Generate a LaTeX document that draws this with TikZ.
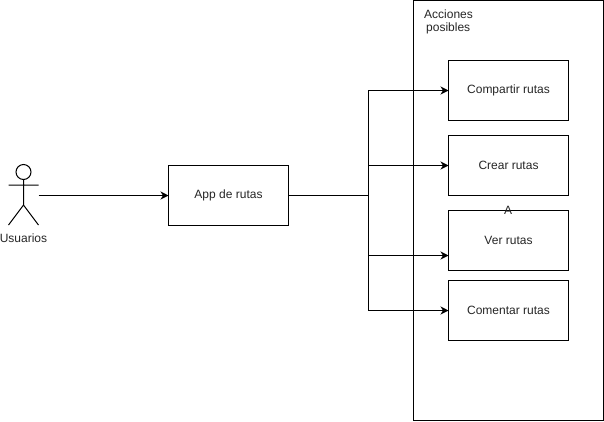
\documentclass[tikz,border=0pt]{standalone}
\usepackage{fontspec}
\setmainfont{Liberation Sans}
\usetikzlibrary{arrows.meta}
\tikzset{
  box/.style={draw=black,line width=1pt,fill=white,outer sep=0pt,minimum width=120pt,minimum height=60pt,inner sep=0pt,font=\fontsize{12}{14}\selectfont,text=black!85},
  lbl/.style={inner sep=0pt,font=\fontsize{12}{14}\selectfont,text=black!85},
  conn/.style={draw=black,line width=1pt,-{Stealth[length=8pt,width=8pt,inset=2.5pt]}},
  wire/.style={draw=black,line width=1pt},
}
\begin{document}
\begin{tikzpicture}[x=1pt,y=-1pt]
\useasboundingbox[fill=white] (0,0) rectangle (604,421);
% container
\node[draw=black,line width=1pt,outer sep=0pt,minimum width=189.5pt,minimum height=420pt,inner sep=0pt,anchor=north west] (cont) at (413.5,0.5) {};
\node[lbl,align=left,anchor=west] (acc1) at (424,14) {Acciones};
\node[lbl,align=left,anchor=west] (acc2) at (426,28) {posibles};
% boxes
\node[box] (compartir) at (508.5,90.5) {Compartir rutas};
\node[box] (crear) at (508.5,165.5) {Crear rutas};
\node[box] (ver) at (508.5,240.5) {Ver rutas};
\node[box] (comentar) at (508.5,310.5) {Comentar rutas};
\node[box] (app) at (228.5,195.5) {App de rutas};
\node[lbl] (a) at (508,210.5) {A};
% actor
\draw[wire] (23.5,172) circle (7.5);
\draw[wire] (23.5,179.5) -- (23.5,205) (8.5,185) -- (38.5,185) (8.5,225) -- (23.5,205) -- (38.5,225);
\node[lbl] (usuarios) at (23.5,238.5) {Usuarios};
\coordinate (actor) at (38.5,195.5);
% connectors
\coordinate (trunk) at (368.5,195.5);
\coordinate (verin) at (448.5,255.5);
\draw[conn] (actor) -- (app.west);
\draw[conn] (app.east) -- (trunk) |- (compartir.west);
\draw[conn] (trunk) |- (crear.west);
\draw[conn] (trunk) |- (verin);
\draw[conn] (trunk) |- (comentar.west);
\end{tikzpicture}
\end{document}
